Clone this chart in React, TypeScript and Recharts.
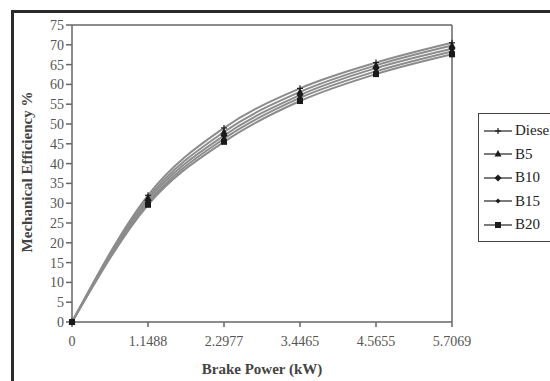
import React from "react"
import { Line, LineChart, XAxis, YAxis, ReferenceLine } from "recharts"

const power = ["0", "1.1488", "2.2977", "3.4465", "4.5655", "5.7069"]
const diesel = [0, 32, 49, 59, 65.5, 70.5]
const b5 = [0, 31.3, 48, 58.1, 64.8, 69.8]
const b10 = [0, 30.7, 47.1, 57.3, 64.1, 69]
const b15 = [0, 30.1, 46.3, 56.6, 63.3, 68.3]
const b20 = [0, 29.6, 45.5, 55.8, 62.6, 67.6]
const yTicks = [0, 5, 10, 15, 20, 25, 30, 35, 40, 45, 50, 55, 60, 65, 70, 75]

const data = power.map((p, i) => ({
  power: p,
  Diesel: diesel[i],
  B5: b5[i],
  B10: b10[i],
  B15: b15[i],
  B20: b20[i],
}))

type Shape = "star" | "triangle" | "diamond" | "smallDiamond" | "square"

const series: { key: string; shape: Shape }[] = [
  { key: "Diesel", shape: "star" },
  { key: "B5", shape: "triangle" },
  { key: "B10", shape: "diamond" },
  { key: "B15", shape: "smallDiamond" },
  { key: "B20", shape: "square" },
]

const ink = "#1a1a1a"
const lineGray = "#8c8c8c"
const textGray = "#555"
const serif = "'Liberation Serif', 'DejaVu Serif', serif"

function Marker({ cx, cy, shape }: { cx: number; cy: number; shape: Shape }) {
  if (cx == null || cy == null) return null
  switch (shape) {
    case "star":
      return (
        <g stroke={ink} strokeWidth={1.2}>
          <line x1={cx - 3} y1={cy} x2={cx + 3} y2={cy} />
          <line x1={cx} y1={cy - 3} x2={cx} y2={cy + 3} />
        </g>
      )
    case "triangle":
      return <polygon points={`${cx},${cy - 4} ${cx - 3.5},${cy + 2.5} ${cx + 3.5},${cy + 2.5}`} fill={ink} />
    case "diamond":
      return <polygon points={`${cx},${cy - 3.5} ${cx + 3.5},${cy} ${cx},${cy + 3.5} ${cx - 3.5},${cy}`} fill={ink} />
    case "smallDiamond":
      return <polygon points={`${cx},${cy - 2.5} ${cx + 2.5},${cy} ${cx},${cy + 2.5} ${cx - 2.5},${cy}`} fill={ink} />
    default:
      return <rect x={cx - 3} y={cy - 3} width={6} height={6} fill={ink} />
  }
}

function LegendBox() {
  return (
    <div
      style={{
        position: "absolute",
        left: 478,
        top: 113,
        border: "1.5px solid #444",
        background: "#fff",
        padding: "5px 0 4px 4px",
        width: 90,
        fontFamily: serif,
        fontSize: 15,
        color: "#222",
      }}
    >
      {series.map((s) => (
        <div key={s.key} style={{ display: "flex", alignItems: "center", height: 23.5 }}>
          <svg width={30} height={12}>
            <line x1={1} y1={6} x2={29} y2={6} stroke="#333" strokeWidth={1.3} />
            <Marker cx={15} cy={6} shape={s.shape} />
          </svg>
          <span style={{ marginLeft: 2 }}>{s.key}</span>
        </div>
      ))}
    </div>
  )
}

export default function App() {
  return (
    <div style={{ position: "fixed", left: 0, top: 0, width: 550, height: 381, overflow: "hidden", background: "#fff" }}>
      <div
        style={{
          position: "absolute",
          left: 11,
          top: 10,
          width: 600,
          height: 400,
          border: "3px solid #2a2a2a",
          boxSizing: "border-box",
        }}
      />
      <LineChart width={550} height={381} data={data} margin={{ top: 25, right: 98, left: 30, bottom: 29 }}>
        <XAxis
          dataKey="power"
          stroke="#666"
          strokeWidth={1.5}
          tick={{ fill: textGray, fontSize: 14, fontFamily: serif }}
          tickSize={5}
          tickMargin={9}
          height={30}
          interval={0}
        />
        <YAxis
          domain={[0, 75]}
          ticks={yTicks}
          stroke="#666"
          strokeWidth={1.5}
          tick={{ fill: textGray, fontSize: 14, fontFamily: serif }}
          tickSize={6}
          tickMargin={2}
          width={42}
          interval={0}
        />
        <ReferenceLine y={75} stroke="#666" strokeWidth={1.5} />
        <ReferenceLine x="5.7069" stroke="#666" strokeWidth={1.5} />
        {series.map((s) => (
          <Line
            key={s.key}
            dataKey={s.key}
            type="monotone"
            stroke={lineGray}
            strokeWidth={2}
            isAnimationActive={false}
            dot={(props: any) => <Marker key={`${s.key}-${props.index}`} cx={props.cx} cy={props.cy} shape={s.shape} />}
          />
        ))}
      </LineChart>
      <LegendBox />
      <div
        style={{
          position: "absolute",
          left: 262,
          top: 369,
          transform: "translate(-50%, -50%)",
          whiteSpace: "nowrap",
          fontFamily: serif,
          fontWeight: "bold",
          fontSize: 15,
          color: "#444",
        }}
      >
        Brake Power (kW)
      </div>
      <div
        style={{
          position: "absolute",
          left: 27,
          top: 172,
          transform: "translate(-50%, -50%) rotate(-90deg)",
          whiteSpace: "nowrap",
          fontFamily: serif,
          fontWeight: "bold",
          fontSize: 15,
          color: "#444",
        }}
      >
        Mechanical Efficiency %
      </div>
    </div>
  )
}
